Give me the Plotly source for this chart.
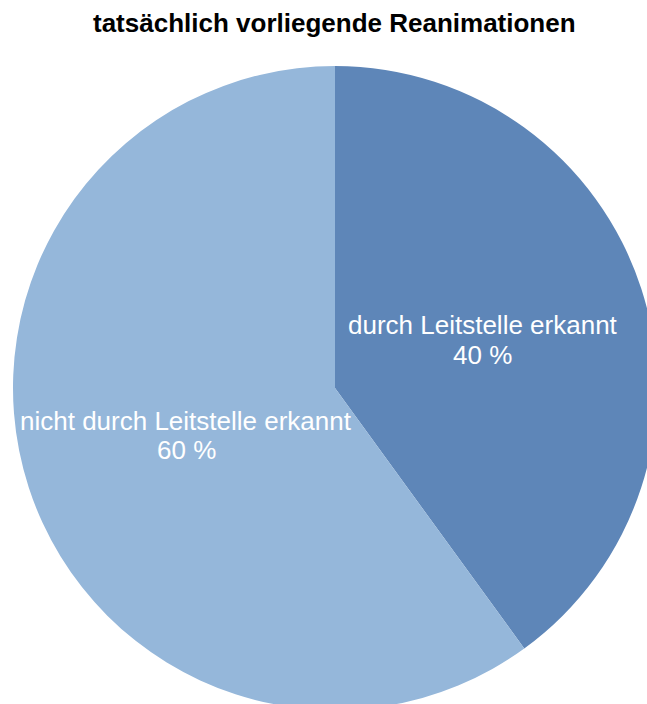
import plotly.graph_objects as go

categories = ["durch Leitstelle erkannt", "nicht durch Leitstelle erkannt"]
values = [40, 60]
colors = ["#5E86B8", "#95B7DA"]
title = "tatsächlich vorliegende Reanimationen"

W, H = 670, 776
R = 322
CX, CY = 335, 388

def px(x):
    return x / W

def py(y):
    return 1 - y / H

fig = go.Figure(go.Pie(
    labels=categories,
    values=values,
    marker=dict(colors=colors, line=dict(width=0)),
    sort=False,
    direction="clockwise",
    rotation=0,
    textinfo="none",
    hoverinfo="label+percent",
    showlegend=False,
    domain=dict(x=[(CX - R) / W, (CX + R) / W], y=[0, 1]),
))

total = sum(values)
label_pos = [(483, 325, 355), (186, 421, 450)]
annotations = []
for cat, val, (lx, ly1, ly2) in zip(categories, values, label_pos):
    pct = round(100 * val / total)
    for text, yy in ((cat, ly1), (f"{pct} %", ly2)):
        annotations.append(dict(
            text=text, x=px(lx), y=py(yy), xref="paper", yref="paper",
            showarrow=False, xanchor="center", yanchor="middle",
            font=dict(family="Liberation Sans, Arial, sans-serif", size=26, color="white"),
        ))
annotations.append(dict(
    text=f"<b>{title}</b>", x=px(334), y=py(23), xref="paper", yref="paper",
    showarrow=False, xanchor="center", yanchor="middle",
    font=dict(family="Liberation Sans, Arial, sans-serif", size=26, color="black"),
))

fig.update_layout(
    width=W, height=H,
    margin=dict(l=0, r=0, t=0, b=0),
    paper_bgcolor="white", plot_bgcolor="white",
    annotations=annotations,
)

fig.write_html(
    "out.html",
    config={"displayModeBar": False},
    post_script="document.documentElement.style.overflow='hidden';document.body.style.overflow='hidden';document.body.style.margin='0';",
)
